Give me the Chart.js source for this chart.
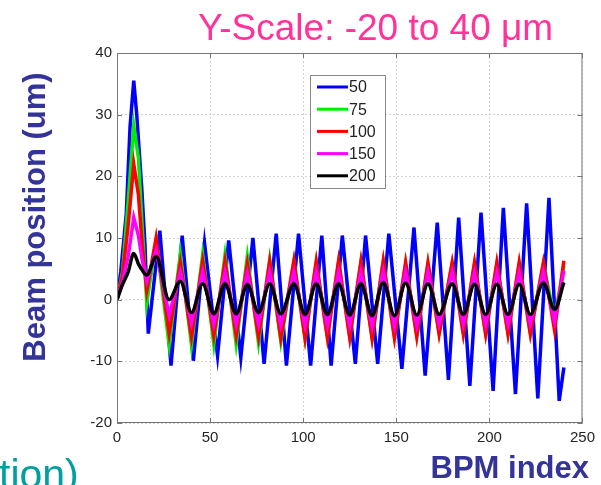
<!DOCTYPE html>
<html>
<head>
<meta charset="utf-8">
<script src="https://cdn.jsdelivr.net/npm/chart.js@4.4.0/dist/chart.umd.min.js"></script>
<style>
  html, body { margin: 0; padding: 0; background: #fff; }
  canvas { display: block; }
</style>
</head>
<body>
<canvas id="beam" width="601" height="485"></canvas>
<script>
// BPM index where the 50 trace turns, and its position (um)
const bpmBlue = [0, 2, 5, 7, 9, 10.6, 13.3, 15, 16.8, 18.6,
  23, 29, 35, 41, 47, 54, 60, 66.5, 73, 79,
  85.5, 91, 97.5, 104, 110, 115, 121, 128, 133.5, 140,
  146, 153, 159.5, 165.5, 172, 178, 183.5, 189.5, 195.5, 202,
  207.5, 214, 220, 226, 232, 237.5, 240];
const pos50 = [0, 4.5, 14, 28, 35.5, 30, 18, 9, -5.5, -0.6,
  11.2, -10.7, 10.4, -9.9, 9.2, -9.1, 9.6, -9.4, 10, -10.4,
  10.7, -10.7, 10.7, -10.7, 10.4, -10.7, 10.4, -10.4, 10.4, -10.4,
  10.7, -11.2, 11.7, -12.3, 12.5, -13, 13.3, -14, 14.1, -14.8,
  14.9, -15.3, 15.6, -16, 16.5, -16.4, -11];

// turning points shared by the other traces
const bpm = [0, 3, 6, 9, 11.5, 13.5, 16, 21, 28,
  34, 40, 46, 52, 58, 64, 70, 76, 82, 88, 95, 101, 107, 113, 119, 125, 131, 137,
  143, 149, 155, 161, 167, 173, 180, 186, 192, 198, 204, 210, 216, 222, 229, 235, 240];
const pos75 = [0, 4.5, 16, 28.2, 23, 12, -0.5, 9.5, -7.3,
  7.4, -7.3, 7.3, -7.2, 7.2, -7.2, 7, -7, 6.5, -6.8, 6.2, -6.3, 6, -6, 6.1, -6, 6, -6.1,
  6.1, -6, 5.8, -5.8, 5.8, -5.4, 5.8, -5.4, 5.8, -5.4, 5.8, -5.4, 5.8, -5.4, 5.8, -3, 5.5];
const pos100 = [0, 4, 12, 22, 17, 9, 1.5, 10, -5.5,
  6, -6, 6.2, -5.8, 6.2, -5.8, 5.8, -6, 6.2, -6.2, 6.3, -6.3, 6.2, -6.2, 6.3, -6.2, 6.2, -6.3,
  6.3, -6.2, 6, -6, 6, -5.6, 6, -5.6, 6, -5.6, 6, -5.6, 6, -5.6, 6, -5, 6.3];
const pos150 = [0, 3, 7, 13.3, 10.4, 6.5, 3, 8, -2.5,
  4.5, -3.8, 4.5, -4, 4.5, -4, 4.3, -4, 4.5, -4.2, 4.5, -4.2, 4.5, -4.2, 4.5, -4.2, 4.5, -4.3,
  4.6, -4.3, 4.5, -4.2, 4.5, -4, 4.5, -4, 4.4, -4, 4.4, -4, 4.4, -4, 4.5, -3.5, 4.7];
const pos200 = [0, 2.5, 4.5, 7.5, 5.8, 4.8, 4, 7, 0,
  3, -2.1, 2.6, -2.3, 2.6, -2.3, 2.4, -2.1, 2.6, -2.3, 2.6, -2.4, 2.6, -2.4, 2.6, -2.5, 2.6, -2.6,
  2.8, -2.6, 2.7, -2.5, 2.6, -2.4, 2.6, -2.4, 2.5, -2.4, 2.5, -2.4, 2.5, -2.4, 2.7, -1.6, 2.8];

const seriesLabels = ['50', '75', '100', '150', '200'];
const seriesColors = ['#0000ff', '#00ee00', '#ff0000', '#ff00ff', '#000000'];
const xTicks = [0, 50, 100, 150, 200, 250];
const yTicks = [-20, -10, 0, 10, 20, 30, 40];

function pts(xs, ys) {
    return xs.map((x, i) => ({ x: x, y: ys[i] }));
}

const tickFont = { family: "'Liberation Sans', Arial, sans-serif", size: 15 };

// box, inward ticks, legend and the loose slide texts
const framePlugin = {
    id: 'frame',
    beforeDraw(chart) {
        const ctx = chart.ctx;
        ctx.save();
        ctx.fillStyle = '#fff';
        ctx.fillRect(0, 0, chart.width, chart.height);
        ctx.restore();
    },
    afterDraw(chart) {
        const ctx = chart.ctx;
        const a = chart.chartArea;
        const xs = chart.scales.x, ys = chart.scales.y;
        ctx.save();

        ctx.strokeStyle = '#777';
        ctx.lineWidth = 1;
        ctx.strokeRect(a.left + 0.5, a.top + 0.5, a.right - a.left - 1, a.bottom - a.top - 1);
        ctx.beginPath();
        xTicks.forEach(v => {
            const p = Math.round(xs.getPixelForValue(v)) + 0.5;
            ctx.moveTo(p, a.bottom); ctx.lineTo(p, a.bottom - 5);
            ctx.moveTo(p, a.top); ctx.lineTo(p, a.top + 5);
        });
        yTicks.forEach(v => {
            const p = Math.round(ys.getPixelForValue(v)) + 0.5;
            ctx.moveTo(a.left, p); ctx.lineTo(a.left + 5, p);
            ctx.moveTo(a.right, p); ctx.lineTo(a.right - 5, p);
        });
        ctx.stroke();

        // legend
        ctx.fillStyle = '#fff';
        ctx.fillRect(310, 75, 75, 113);
        ctx.strokeStyle = '#888';
        ctx.strokeRect(310.5, 75.5, 75, 113);
        ctx.font = "16px 'Liberation Sans', Arial, sans-serif";
        ctx.textBaseline = 'middle';
        ctx.textAlign = 'left';
        chart.data.datasets.forEach((ds, i) => {
            const y = 87 + i * 22.2;
            ctx.strokeStyle = ds.borderColor;
            ctx.lineWidth = 3;
            ctx.beginPath();
            ctx.moveTo(317, y); ctx.lineTo(348, y);
            ctx.stroke();
            ctx.fillStyle = '#222';
            ctx.fillText(ds.label, 349, y + 1);
        });

        // title
        ctx.textBaseline = 'alphabetic';
        ctx.fillStyle = '#ff3399';
        ctx.font = "37px 'Liberation Sans', Arial, sans-serif";
        ctx.fillText('Y-Scale: -20 to 40 \u03bcm', 198, 40);

        // axis titles
        ctx.fillStyle = '#333399';
        ctx.font = "bold 31px 'Liberation Sans', Arial, sans-serif";
        ctx.textAlign = 'right';
        ctx.fillText('BPM index', 589, 478);
        ctx.save();
        ctx.translate(45, 217);
        ctx.rotate(-Math.PI / 2);
        ctx.textAlign = 'center';
        ctx.fillText('Beam position (um)', 0, 0);
        ctx.restore();

        // cut-off slide caption
        ctx.fillStyle = '#00a0a0';
        ctx.font = "41px 'Liberation Sans', Arial, sans-serif";
        ctx.textAlign = 'left';
        ctx.fillText('tion)', -1, 488);

        ctx.restore();
    }
};

const ctx = document.getElementById('beam').getContext('2d');
new Chart(ctx, {
    type: 'line',
    data: {
        datasets: [
            { label: seriesLabels[0], data: pts(bpmBlue, pos50), borderColor: seriesColors[0], order: 5 },
            { label: seriesLabels[1], data: pts(bpm, pos75), borderColor: seriesColors[1], order: 4 },
            { label: seriesLabels[2], data: pts(bpm, pos100), borderColor: seriesColors[2], order: 3 },
            { label: seriesLabels[3], data: pts(bpm, pos150), borderColor: seriesColors[3], order: 2 },
            { label: seriesLabels[4], data: pts(bpm, pos200), borderColor: seriesColors[4], order: 1,
              cubicInterpolationMode: 'monotone' }
        ]
    },
    options: {
        responsive: false,
        animation: false,
        devicePixelRatio: 1,
        layout: { padding: { top: 53, right: 14, bottom: 0, left: 0 } },
        elements: {
            line: { borderWidth: 3.5, tension: 0, fill: false },
            point: { radius: 0 }
        },
        plugins: {
            legend: { display: false },
            tooltip: { enabled: false }
        },
        scales: {
            x: {
                type: 'linear',
                min: 0,
                max: 250,
                afterBuildTicks: s => { s.ticks = xTicks.map(v => ({ value: v })); },
                afterFit: s => { s.height = 62; },
                ticks: { font: tickFont, color: '#262626', padding: 6, maxRotation: 0 },
                grid: { color: '#d2d2d2', drawTicks: false },
                border: { display: false, dash: [2, 2] }
            },
            y: {
                type: 'linear',
                min: -20,
                max: 40,
                afterBuildTicks: s => { s.ticks = yTicks.map(v => ({ value: v })); },
                afterFit: s => { s.width = 117; },
                ticks: { font: tickFont, color: '#262626', padding: 5 },
                grid: { color: '#d2d2d2', drawTicks: false },
                border: { display: false, dash: [2, 2] }
            }
        }
    },
    plugins: [framePlugin]
});
</script>
</body>
</html>
